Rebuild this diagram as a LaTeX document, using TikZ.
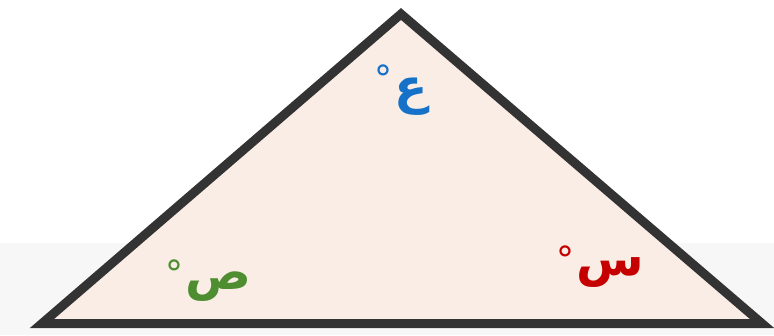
\documentclass[tikz,border=0pt]{standalone}
\usepackage{fontspec}
\usepackage{xcolor}
\newfontfamily\arabicfont[Script=Arabic]{DejaVu Sans}
\TeXXeTstate=1
\definecolor{edgegray}{RGB}{51,51,51}
\definecolor{trifill}{RGB}{250,237,229}
\definecolor{bandgray}{RGB}{247,247,247}
\definecolor{anglblue}{RGB}{22,114,200}
\definecolor{anglgreen}{RGB}{78,142,48}
\definecolor{anglred}{RGB}{196,0,0}
\newcommand{\degsign}[1][12pt]{\kern2pt\raisebox{#1}{\mdseries\fontsize{36}{36}\selectfont °}}
\tikzset{
  triangleside/.style={draw=edgegray, line width=9pt, line join=miter, fill=trifill},
  anglelabel/.style={font=\arabicfont\bfseries\fontsize{49}{49}\selectfont, inner sep=0pt}
}

\begin{document}
\begin{tikzpicture}[x=1pt, y=1pt]
  \useasboundingbox (0,0) rectangle (774,335);
  \fill[white] (0,0) rectangle (774,335);
  \fill[bandgray] (0,0) rectangle (774,92);

  % Triangle corners
  \coordinate (apex) at (401,321);
  \coordinate (leftcorner) at (42,11.5);
  \coordinate (rightcorner) at (762,11.5);
  \filldraw[triangleside] (apex) -- (leftcorner) -- (rightcorner) -- cycle;

  % Angle labels
  \node[anglelabel, text=anglblue] (angle_ain) at (401,245) {\beginR ع\degsign\endR};
  \node[anglelabel, text=anglgreen] (angle_sad) at (208,54.5) {\beginR ص\degsign[3pt]\endR};
  \node[anglelabel, text=anglred] (angle_sin) at (600,68.5) {\beginR س\degsign[3pt]\endR};

\end{tikzpicture}
\end{document}
